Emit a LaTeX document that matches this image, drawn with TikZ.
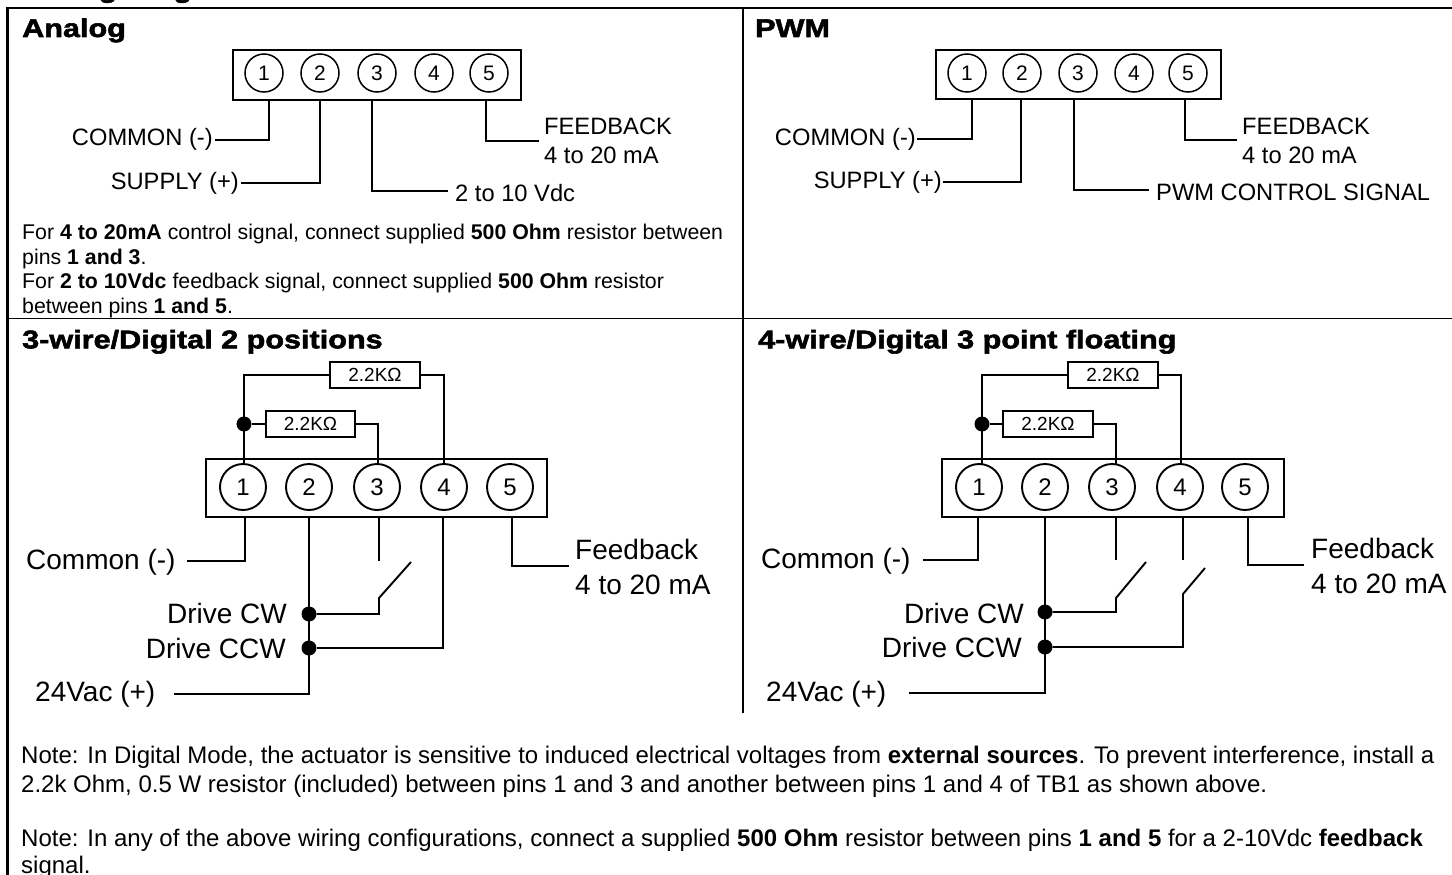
\documentclass[tikz,border=0pt]{standalone}
\usepackage{fontspec}
\setmainfont{Liberation Sans}
\newfontfamily\heavyfont[FakeBold=2.2,FakeStretch=1.2]{Liberation Sans Bold}
\newcommand{\fs}[1]{\fontsize{#1}{#1}\selectfont}
\tikzset{
  frameline/.style={line width=2.2pt,black},
  wire/.style={line width=1.9pt,black},
  heading/.style={anchor=base west,inner sep=0pt,font=\heavyfont\fs{25.5}},
  smalllab/.style={anchor=base west,inner sep=0pt,font=\fs{23.7}},
  biglab/.style={anchor=base west,inner sep=0pt,font=\fs{28}},
  para/.style={anchor=base west,inner sep=0pt,font=\fs{21.3}},
  notepara/.style={anchor=base west,inner sep=0pt,font=\fs{24}},
  tbox/.style={draw,line width=1.9pt,anchor=north west,inner sep=0pt},
  pinS/.style={draw,circle,line width=1.5pt,minimum size=38pt,inner sep=0pt,font=\fs{21}},
  pinB/.style={draw,circle,line width=1.9pt,minimum size=46pt,inner sep=0pt,font=\fs{24}},
  res/.style={draw,line width=1.4pt,fill=white,inner sep=0pt,minimum height=26pt,font=\fs{19}},
  junct/.style={circle,fill=black,inner sep=0pt,minimum size=15pt},
}
\begin{document}
\begin{tikzpicture}[x=1pt,y=-1pt]
\useasboundingbox (0,0) rectangle (1452,875);
\begin{scope}
\clip (0,0) rectangle (1452,875);
\node[heading] (title) at (22,-2.5) {Wiring Diagrams};
\end{scope}
% frame
\coordinate (ftl) at (7.5,8); \coordinate (ftr) at (1452,8);
\coordinate (fbl) at (7.5,875); \coordinate (mt) at (743,8); \coordinate (mb) at (743,713);
\coordinate (hl) at (7.5,318.5); \coordinate (hr) at (1452,318.5);
\draw[frameline] (fbl) -- (ftl) -- (ftr);
\draw[line width=1.8pt] (mt) -- (mb);
\draw[line width=1.8pt] (hl) -- (hr);
% headings
\node[heading] (h1) at (22,37) {Analog};
\node[heading] (h2) at (755,37) {PWM};
\node[heading] (h3) at (22,348.3) {3-wire/Digital 2 positions};
\node[heading] (h4) at (758,348.3) {4-wire/Digital 3 point floating};

% ---------- Analog
\node[tbox,minimum width=288pt,minimum height=50pt] (abox) at (232,49) {};
\foreach \i/\x in {1/264,2/320,3/377,4/434,5/489} \node[pinS] (a\i) at (\x,73) {\i};
\coordinate (aw1) at (269,99); \coordinate (aw2) at (320,99); \coordinate (aw3) at (372,99); \coordinate (aw5) at (486,99);
\coordinate (ae1) at (215,140); \coordinate (ae2) at (241,183); \coordinate (ae3) at (448,191); \coordinate (ae5) at (539,141);
\draw[wire] (aw1) |- (ae1); \draw[wire] (aw2) |- (ae2); \draw[wire] (aw3) |- (ae3); \draw[wire] (aw5) |- (ae5);
\node[smalllab,anchor=base east] (acom) at (213,146) {COMMON (-)};
\node[smalllab,anchor=base east] (asup) at (239,189) {SUPPLY (+)};
\node[smalllab] (asig) at (455,201) {2 to 10 Vdc};
\node[smalllab] (afb) at (544,134) {FEEDBACK};
\node[smalllab] (ama) at (544,163) {4 to 20 mA};
\node[para] (p1) at (22,239.5) {For \textbf{4 to 20mA} control signal, connect supplied \textbf{500 Ohm} resistor between};
\node[para] (p2) at (22,264) {pins \textbf{1 and 3}.};
\node[para] (p3) at (22,288.5) {For \textbf{2 to 10Vdc} feedback signal, connect supplied \textbf{500 Ohm} resistor};
\node[para] (p4) at (22,313) {between pins \textbf{1 and 5}.};

% ---------- PWM
\node[tbox,minimum width=285pt,minimum height=49pt] (pbox) at (935,49) {};
\foreach \i/\x in {1/967,2/1022,3/1078,4/1134,5/1188} \node[pinS] (b\i) at (\x,73) {\i};
\coordinate (bw1) at (972,98); \coordinate (bw2) at (1021,98); \coordinate (bw3) at (1074,98); \coordinate (bw5) at (1185,98);
\coordinate (be1) at (916.5,139); \coordinate (be2) at (943,182); \coordinate (be3) at (1149,190); \coordinate (be5) at (1237,140);
\draw[wire] (bw1) |- (be1); \draw[wire] (bw2) |- (be2); \draw[wire] (bw3) |- (be3); \draw[wire] (bw5) |- (be5);
\node[smalllab,anchor=base east] (bcom) at (916,146) {COMMON (-)};
\node[smalllab,anchor=base east] (bsup) at (942,188) {SUPPLY (+)};
\node[smalllab] (bsig) at (1156,200) {PWM CONTROL SIGNAL};
\node[smalllab] (bfb) at (1242,134) {FEEDBACK};
\node[smalllab] (bma) at (1242,163) {4 to 20 mA};

% ---------- 3-wire
\node[tbox,minimum width=341pt,minimum height=58pt] (cbox) at (205,458) {};
\foreach \i/\x in {1/243,2/309,3/377,4/444,5/510} \node[pinB] (c\i) at (\x,487) {\i};
\node[res,minimum width=90pt] (cr1) at (375,375) {2.2KΩ};
\node[res,minimum width=89pt] (cr2) at (310.5,424) {2.2KΩ};
\node[junct] (cj0) at (244,424) {};
\coordinate (ct1) at (244,465); \coordinate (ct3) at (378,465); \coordinate (ct4) at (444,465);
\draw[wire] (ct1) |- (cr1.west);
\draw[wire] (cj0) -- (cr2.west);
\draw[wire] (cr2.east) -| (ct3);
\draw[wire] (cr1.east) -| (ct4);
\coordinate (cb1) at (245,516); \coordinate (cb2) at (309,516); \coordinate (cb3) at (379,516); \coordinate (cb4) at (443,516); \coordinate (cb5) at (512,516);
\coordinate (ce1) at (187,561); \coordinate (ce2) at (174,694); \coordinate (ce3) at (379,561); \coordinate (ce5) at (569,566);
\draw[wire] (cb1) |- (ce1); \draw[wire] (cb2) |- (ce2); \draw[wire] (cb3) -- (ce3); \draw[wire] (cb5) |- (ce5);
\node[junct] (cj1) at (309,614) {};
\node[junct] (cj2) at (309,648) {};
\coordinate (csw1) at (379,598); \coordinate (csw2) at (411,562);
\draw[wire] (cj1) -| (csw1) -- (csw2);
\draw[wire] (cj2) -| (cb4);
\node[biglab] (ccom) at (26,569) {Common (-)};
\node[biglab] (cfb) at (575,559) {Feedback};
\node[biglab] (cma) at (575,594) {4 to 20 mA};
\node[biglab,anchor=base east] (ccw) at (287,623) {Drive CW};
\node[biglab,anchor=base east] (cccw) at (286,658) {Drive CCW};
\node[biglab] (cvac) at (35,701) {24Vac (+)};

% ---------- 4-wire
\node[tbox,minimum width=342pt,minimum height=58pt] (dbox) at (941,458) {};
\foreach \i/\x in {1/979,2/1045,3/1112,4/1180,5/1245} \node[pinB] (d\i) at (\x,487) {\i};
\node[res,minimum width=90pt] (dr1) at (1113,375) {2.2KΩ};
\node[res,minimum width=90pt] (dr2) at (1048,424) {2.2KΩ};
\node[junct] (dj0) at (982,424) {};
\coordinate (dt1) at (982,465); \coordinate (dt3) at (1116,465); \coordinate (dt4) at (1181,465);
\draw[wire] (dt1) |- (dr1.west);
\draw[wire] (dj0) -- (dr2.west);
\draw[wire] (dr2.east) -| (dt3);
\draw[wire] (dr1.east) -| (dt4);
\coordinate (db1) at (978,516); \coordinate (db2) at (1045,516); \coordinate (db3) at (1116,516); \coordinate (db4) at (1183,516); \coordinate (db5) at (1248,516);
\coordinate (de1) at (923,560); \coordinate (de2) at (909,693); \coordinate (de3) at (1116,560); \coordinate (de4) at (1183,560); \coordinate (de5) at (1304,565);
\draw[wire] (db1) |- (de1); \draw[wire] (db2) |- (de2); \draw[wire] (db3) -- (de3); \draw[wire] (db4) -- (de4); \draw[wire] (db5) |- (de5);
\node[junct] (dj1) at (1045,612) {};
\node[junct] (dj2) at (1045,647) {};
\coordinate (dsw1) at (1116,598); \coordinate (dsw2) at (1146,562);
\coordinate (dsw3) at (1183,594); \coordinate (dsw4) at (1205,568);
\draw[wire] (dj1) -| (dsw1) -- (dsw2);
\draw[wire] (dj2) -| (dsw3) -- (dsw4);
\node[biglab] (dcom) at (761,568) {Common (-)};
\node[biglab] (dfb) at (1311,558) {Feedback};
\node[biglab] (dma) at (1311,593) {4 to 20 mA};
\node[biglab,anchor=base east] (dcw) at (1024,623) {Drive CW};
\node[biglab,anchor=base east] (dccw) at (1022,657) {Drive CCW};
\node[biglab] (dvac) at (766,701) {24Vac (+)};

% ---------- notes
\node[notepara] (n1) at (21,763) {Note: In Digital Mode, the actuator is sensitive to induced electrical voltages from \textbf{external sources}. To prevent interference, install a};
\node[notepara] (n2) at (21,792) {2.2k Ohm, 0.5 W resistor (included) between pins 1 and 3 and another between pins 1 and 4 of TB1 as shown above.};
\node[notepara] (n3) at (21,846) {Note: In any of the above wiring configurations, connect a supplied \textbf{500 Ohm} resistor between pins \textbf{1 and 5} for a 2-10Vdc \textbf{feedback}};
\node[notepara] (n4) at (21,873) {signal.};
\end{tikzpicture}
\end{document}
